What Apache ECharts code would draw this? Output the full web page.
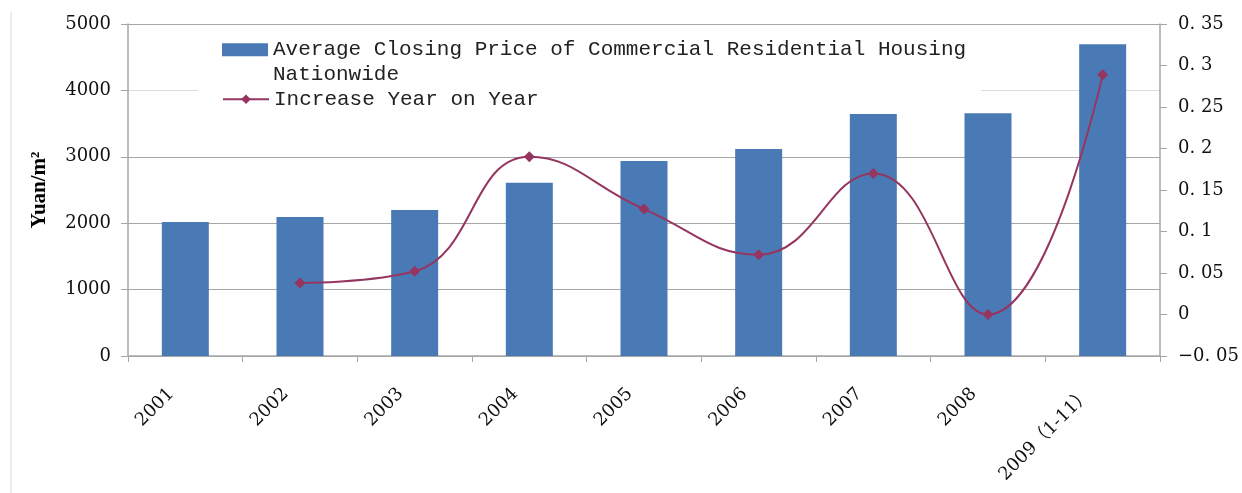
<!DOCTYPE html>
<html>
<head>
<meta charset="utf-8">
<script src="https://cdn.jsdelivr.net/npm/echarts@6/dist/echarts.min.js"></script>
<style>
  html, body { margin: 0; padding: 0; background: #fff; }
  #main { width: 1242px; height: 493px; }
</style>
</head>
<body>
<div id="main"></div>
<script>
// chart data
const years = ['2001', '2002', '2003', '2004', '2005', '2006', '2007', '2008', '2009（1-11）'];
const avgPrice = [2017, 2092, 2197, 2608, 2937, 3119, 3645, 3655, 4695];
const yoyIncrease = [null, 0.038, 0.052, 0.190, 0.127, 0.072, 0.170, 0.000, 0.289];

const barName = 'Average Closing Price of Commercial Residential Housing Nationwide';
const lineName = 'Increase Year on Year';

const chart = echarts.init(document.getElementById('main'));

const serif = '"DejaVu Serif", "Liberation Serif", "Noto Sans CJK SC", serif';
const mono = '"Liberation Mono", "DejaVu Sans Mono", monospace';

// right axis labels look like "0. 35"
const rightFmt = (v) => {
  if (Math.abs(v) < 1e-9) return '0';
  const s = Math.abs(v).toFixed(2).replace(/0+$/, '').replace('.', '. ');
  return (v < 0 ? '\u2212' : '') + s;
};

const option = {
  animation: false,
  backgroundColor: '#fff',
  grid: { left: 128, right: 82, top: 24, bottom: 137 },
  graphic: [
    // frame line on the far left
    { type: 'line', shape: { x1: 11, y1: 12, x2: 11, y2: 493 }, style: { stroke: '#d9d9d9', lineWidth: 1 } },
    // white box behind the legend
    { type: 'rect', z: 1, shape: { x: 198, y: 30, width: 783, height: 82 }, style: { fill: '#fff' } }
  ],
  legend: [
    {
      data: [barName],
      left: 222, top: 13,
      padding: 0,
      icon: 'rect',
      itemWidth: 46, itemHeight: 13,
      // empty first line keeps the icon level with the first text line
      formatter: () => '\nAverage Closing Price of Commercial Residential Housing\nNationwide',
      textStyle: { fontFamily: mono, fontSize: 21, color: '#222', lineHeight: 24.5 }
    },
    {
      data: [lineName],
      left: 222, top: 87,
      padding: 0,
      itemWidth: 46, itemHeight: 12,
      textStyle: { fontFamily: mono, fontSize: 21, color: '#222', lineHeight: 24.5 }
    }
  ],
  xAxis: {
    type: 'category',
    data: years,
    axisLine: { lineStyle: { color: '#a6a6a6', width: 1.5 } },
    axisTick: { show: true, length: 6, lineStyle: { color: '#a6a6a6' } },
    axisLabel: { rotate: 45, margin: 21, padding: [0, 20, 0, 0], fontFamily: serif, fontSize: 18, color: '#111' }
  },
  yAxis: [
    {
      type: 'value',
      min: 0, max: 5000, interval: 1000,
      name: 'Yuan/m\u00B2',
      nameLocation: 'middle',
      nameRotate: 90,
      nameGap: 78,
      nameTextStyle: { fontFamily: '"Liberation Serif", serif', fontSize: 21, fontWeight: 'bold', color: '#000' },
      axisLine: { show: true, lineStyle: { color: '#a6a6a6', width: 1.5 } },
      axisTick: { show: true, length: 7, lineStyle: { color: '#a6a6a6' } },
      axisLabel: { margin: 17, fontFamily: serif, fontSize: 18, color: '#111', formatter: (v) => String(v) },
      splitLine: {
        show: true,
        lineStyle: { color: ['#a6a6a6', '#a6a6a6', '#a6a6a6', '#a6a6a6', '#dcdcdc', '#a6a6a6'], width: 1.2 }
      }
    },
    {
      type: 'value',
      min: -0.05, max: 0.35, interval: 0.05,
      position: 'right',
      axisLine: { show: true, lineStyle: { color: '#a6a6a6', width: 1.5 } },
      axisTick: { show: true, length: 7, lineStyle: { color: '#a6a6a6' } },
      axisLabel: { margin: 18, fontFamily: serif, fontSize: 18, color: '#111', formatter: rightFmt },
      splitLine: { show: false }
    }
  ],
  series: [
    {
      name: barName,
      type: 'bar',
      data: avgPrice,
      yAxisIndex: 0,
      barWidth: 47,
      itemStyle: { color: '#4a7ab5' }
    },
    {
      name: lineName,
      type: 'line',
      data: yoyIncrease,
      yAxisIndex: 1,
      smooth: 0.45,
      connectNulls: false,
      symbol: 'diamond',
      symbolSize: 11,
      lineStyle: { color: '#953560', width: 2 },
      itemStyle: { color: '#953560' }
    }
  ]
};

chart.setOption(option);
</script>
</body>
</html>
